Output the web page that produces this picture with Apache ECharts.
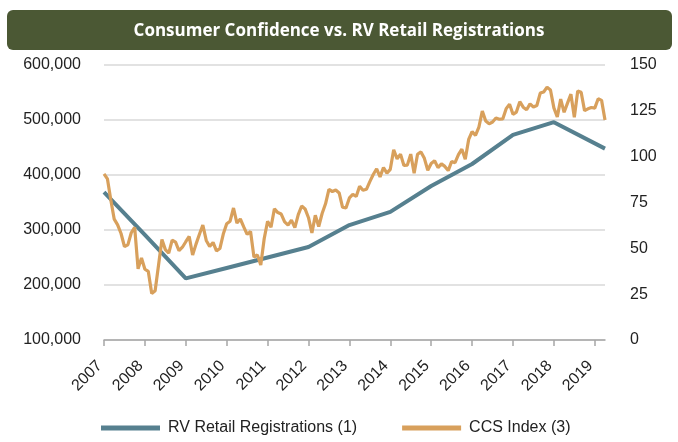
<!DOCTYPE html>
<html><head><meta charset="utf-8">
<script src="https://cdn.jsdelivr.net/npm/echarts@6/dist/echarts.min.js"></script>
<style>html,body{margin:0;padding:0;background:#fff}#c{width:678px;height:442px}</style>
</head><body><div id="c"></div>
<script>
const titleText = 'Consumer Confidence vs. RV Retail Registrations';
const years = [2007,2008,2009,2010,2011,2012,2013,2014,2015,2016,2017,2018,2019];
const seriesNames = ['RV Retail Registrations (1)', 'CCS Index (3)'];
const rvDates = ['2007-01','2008-01','2009-01','2010-01','2011-01','2012-01','2013-01','2014-01','2015-01','2016-01','2017-01','2018-01','2019-04'];
const rvValues = [369000,291000,212000,231000,250000,269000,309000,333000,380000,420000,473000,496000,448000];
const ccsValues = [
  90.6,
  87.9,76.4,65.9,62.8,58.1,51.0,51.9,58.5,61.4,38.8,44.7,38.6,
  37.4,25.3,26.9,40.8,54.8,49.3,47.4,54.5,53.4,48.7,50.6,53.6,
  56.5,46.4,52.3,57.7,62.7,54.3,51.0,53.2,48.6,49.9,57.8,63.4,
  64.8,72.0,63.8,66.0,61.7,57.6,59.2,45.2,46.4,40.9,55.2,64.8,
  61.5,71.6,69.5,68.7,64.4,62.7,65.4,61.3,68.4,73.1,71.5,66.7,
  58.4,68.0,61.9,69.0,74.3,82.1,81.0,81.8,80.2,72.4,72.0,77.5,
  79.4,78.3,83.9,81.7,82.2,86.4,90.3,93.4,89.0,94.1,91.0,93.1,
  103.8,98.8,101.4,95.2,95.4,101.4,91.0,101.3,102.6,99.1,92.6,96.3,
  97.8,94.0,96.1,94.7,92.4,97.4,96.7,101.1,104.1,98.6,109.4,113.7,
  111.6,116.1,124.9,119.4,117.9,118.9,121.1,120.4,120.6,126.2,128.6,123.1,
  124.3,130.0,127.0,125.6,128.8,127.1,127.9,134.7,135.3,137.9,136.4,126.6,
  121.7,131.4,124.2,129.2,134.1,121.5,135.8,135.1,125.1,126.1,126.8,126.5,
  131.6,130.7,120.0
];
// monthly categories starting at Jan 2007, one per CCS reading
const months = [];
years.forEach(y => { for (let m = 1; m <= 12; m++) months.push(y + '-' + String(m).padStart(2,'0')); });
const cats = months.slice(0, ccsValues.length);

const font = 'Liberation Sans';
const chart = echarts.init(document.getElementById('c'));
const isYearStart = (i) => i % 12 === 0;
chart.setOption({
  animation: false,
  graphic: [{
    type: 'rect', z: 0,
    shape: {x: 7, y: 10, width: 665, height: 40, r: 6},
    style: {fill: '#4b5834'}
  }],
  title: {
    text: titleText, left: 'center', top: 18, z: 10,
    textStyle: {color: '#fff', fontSize: 17, fontWeight: 'bold', fontFamily: 'Open Sans'}
  },
  grid: {left: 104, right: 73, top: 65, bottom: 102},
  legend: {
    data: seriesNames, left: 96, top: 415, itemGap: 45, itemWidth: 59, itemHeight: 5,
    icon: 'rect',
    textStyle: {fontSize: 16, color: '#222', fontFamily: font, padding: [0,0,0,3]}
  },
  xAxis: {
    type: 'category', data: cats, boundaryGap: false,
    axisLine: {lineStyle: {color: '#a6a6a6', width: 1.5}},
    axisTick: {interval: (i) => isYearStart(i), length: 6, lineStyle: {color: '#a6a6a6', width: 1.5}},
    axisLabel: {interval: (i) => isYearStart(i), rotate: 45, formatter: v => v.slice(0,4),
      fontSize: 16, color: '#222', fontFamily: font, margin: 19, padding: [0,6,0,0]},
    splitLine: {show: false}
  },
  yAxis: [{
    type: 'value', min: 100000, max: 600000, interval: 100000,
    axisLine: {show: false}, axisTick: {show: false},
    splitLine: {lineStyle: {color: '#d9d9d9', width: 1.5}},
    axisLabel: {fontSize: 16, color: '#222', fontFamily: font, margin: 23,
      formatter: v => String(v).replace(/\B(?=(\d{3})+(?!\d))/g, ',')}
  }, {
    type: 'value', min: 0, max: 150, interval: 25,
    axisLine: {show: false}, axisTick: {show: false}, splitLine: {show: false},
    axisLabel: {fontSize: 16, color: '#222', fontFamily: font, margin: 25}
  }],
  series: [{
    name: seriesNames[0], type: 'line', yAxisIndex: 0,
    data: rvDates.map((d, i) => [d, rvValues[i]]),
    showSymbol: false, symbol: 'none',
    lineStyle: {color: '#56808f', width: 4}, itemStyle: {color: '#56808f'}, z: 2
  }, {
    name: seriesNames[1], type: 'line', yAxisIndex: 1,
    data: ccsValues, showSymbol: false, symbol: 'none',
    lineStyle: {color: '#d8a05c', width: 3.2}, itemStyle: {color: '#d8a05c'}, z: 3
  }]
});
</script></body></html>
